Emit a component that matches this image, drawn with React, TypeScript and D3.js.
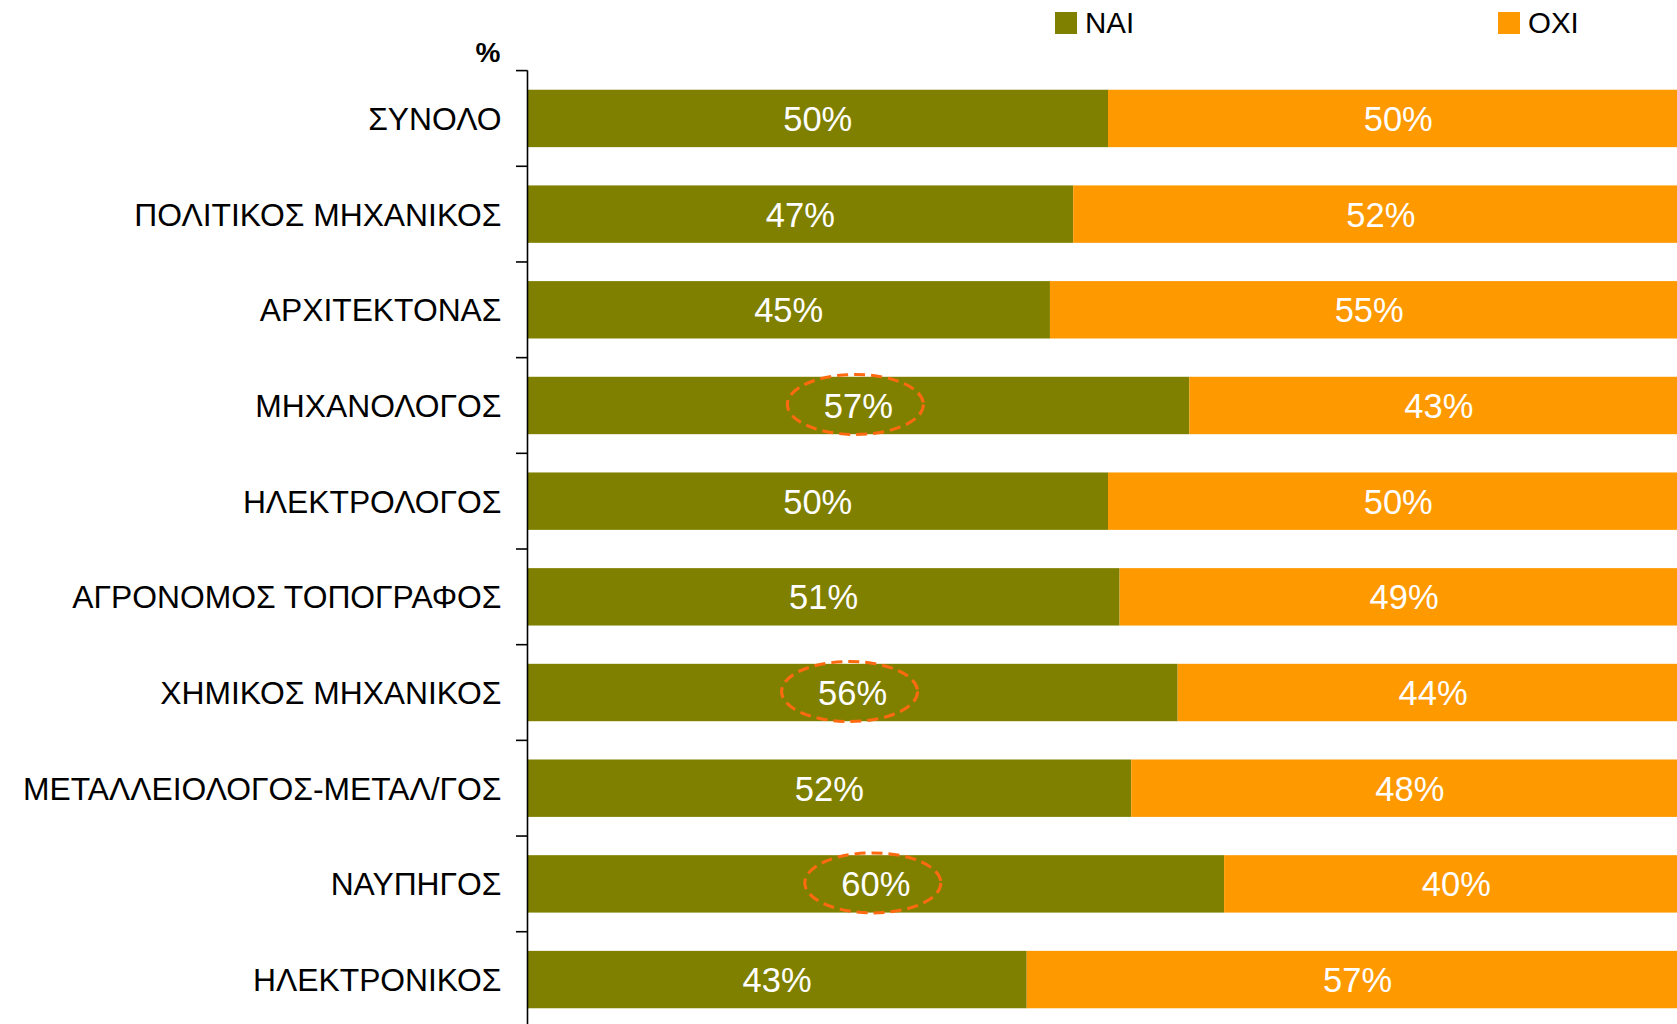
import React from "react";
import * as d3 from "d3";

const categories = [
  "ΣΥΝΟΛΟ",
  "ΠΟΛΙΤΙΚΟΣ ΜΗΧΑΝΙΚΟΣ",
  "ΑΡΧΙΤΕΚΤΟΝΑΣ",
  "ΜΗΧΑΝΟΛΟΓΟΣ",
  "ΗΛΕΚΤΡΟΛΟΓΟΣ",
  "ΑΓΡΟΝΟΜΟΣ ΤΟΠΟΓΡΑΦΟΣ",
  "ΧΗΜΙΚΟΣ ΜΗΧΑΝΙΚΟΣ",
  "ΜΕΤΑΛΛΕΙΟΛΟΓΟΣ-ΜΕΤΑΛ/ΓΟΣ",
  "ΝΑΥΠΗΓΟΣ",
  "ΗΛΕΚΤΡΟΝΙΚΟΣ",
];
const naiValues = [50, 47, 45, 57, 50, 51, 56, 52, 60, 43];
const oxiValues = [50, 52, 55, 43, 50, 49, 44, 48, 40, 57];
const highlighted = ["ΜΗΧΑΝΟΛΟΓΟΣ", "ΧΗΜΙΚΟΣ ΜΗΧΑΝΙΚΟΣ", "ΝΑΥΠΗΓΟΣ"];
const seriesNames = ["ΝΑΙ", "ΟΧΙ"];
const seriesColors = ["#808000", "#FF9900"];
const unitLabel = "%";

const W = 1677;
const H = 1024;
const FONT = "'Liberation Sans', Arial, sans-serif";

export default function App() {
  const x = d3.scaleLinear().domain([0, 100]).range([527.5, 1688.5]);
  const y = d3
    .scaleBand<string>()
    .domain(categories)
    .range([70.6, 70.6 + 95.68 * categories.length])
    .paddingInner(0.4)
    .paddingOuter(0.2);
  const step = y.step();
  const ticks = d3.range(categories.length + 1).map((i) => 70.6 + i * step);

  return (
    <svg
      width={W}
      height={H}
      style={{ position: "absolute", left: 0, top: 0, display: "block", background: "#fff" }}
      fontFamily={FONT}
    >
      {/* legend */}
      {seriesNames.map((s, i) => {
        const lx = i === 0 ? 1055 : 1498;
        return (
          <g key={s}>
            <rect x={lx} y={12} width={22} height={22} fill={seriesColors[i]} />
            <text x={lx + 30} y={22.5} dy="0.36em" fontSize={29.5} fill="#000">
              {s}
            </text>
          </g>
        );
      })}
      <text x={500.5} y={51.5} dy="0.36em" textAnchor="end" fontSize={28} fontWeight="bold">
        {unitLabel}
      </text>

      {/* bars */}
      {categories.map((c, i) => {
        const by = y(c)!;
        const bh = y.bandwidth();
        const n = naiValues[i];
        const o = oxiValues[i];
        const cy = by + bh / 2;
        const nCx = (x(0) + x(n)) / 2;
        const oCx = (x(n) + x(100)) / 2;
        return (
          <g key={c}>
            <rect x={x(0)} y={by} width={x(n) - x(0)} height={bh} fill={seriesColors[0]} />
            <rect x={x(n)} y={by} width={x(100) - x(n)} height={bh} fill={seriesColors[1]} />
            <text x={nCx} y={cy} dy="0.36em" textAnchor="middle" fontSize={34.5} fill="#fff">
              {n}%
            </text>
            <text x={oCx} y={cy} dy="0.36em" textAnchor="middle" fontSize={34.5} fill="#fff">
              {o}%
            </text>
            <text x={501.5} y={cy} dy="0.36em" textAnchor="end" fontSize={31.8} fill="#000">
              {c}
            </text>
            {highlighted.includes(c) && (
              <ellipse
                cx={nCx - 3}
                cy={cy - 1}
                rx={68}
                ry={30}
                fill="none"
                stroke="#FF6A10"
                strokeWidth={3}
                strokeDasharray="11 6"
              />
            )}
          </g>
        );
      })}

      {/* axis */}
      <line x1={527.5} x2={527.5} y1={70.6} y2={H + 10} stroke="#000" strokeWidth={1.6} />
      {ticks.map((t, i) => (
        <line key={i} x1={516} x2={527.5} y1={t} y2={t} stroke="#000" strokeWidth={1.6} />
      ))}
    </svg>
  );
}
